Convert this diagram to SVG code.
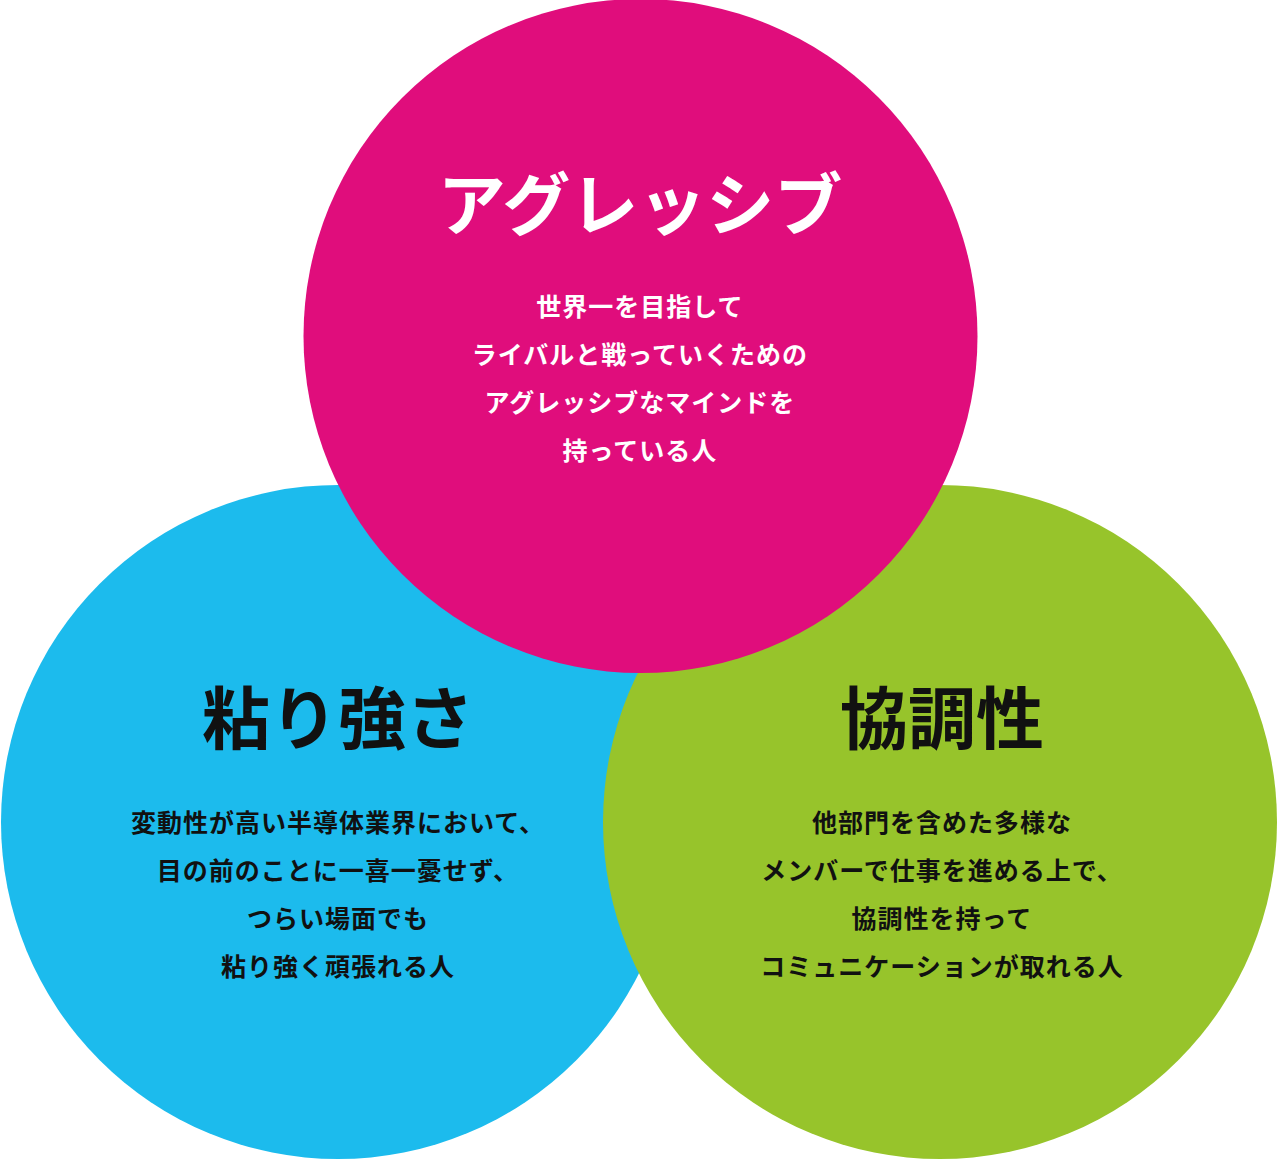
<svg xmlns="http://www.w3.org/2000/svg" width="1278" height="1159" viewBox="0 0 1278 1159">
<style>
text{font-family:"Noto Sans CJK JP","Noto Sans CJK SC",sans-serif;font-weight:700;text-anchor:middle}
.t{font-size:68px}
.b{font-size:25px;letter-spacing:1px}
.w{fill:#fff}
.k{fill:#111}
</style>
<g id="node-blue"><circle cx="338" cy="822" r="337" fill="#1CBBED"/></g>
<g id="node-green"><circle cx="940" cy="822" r="337" fill="#97C42B"/></g>
<g id="node-pink"><circle cx="640.5" cy="336" r="337" fill="#E00D7C"/></g>
<g id="connectors"></g>
<g id="label-pink" class="w">
<text class="t w" x="640" y="230">アグレッシブ</text>
<text class="b w" x="640" y="316">世界一を目指して</text>
<text class="b w" x="640" y="364">ライバルと戦っていくための</text>
<text class="b w" x="640" y="412">アグレッシブなマインドを</text>
<text class="b w" x="640" y="460">持っている人</text>
</g>
<g id="label-blue">
<text class="t k" x="338" y="744">粘り強さ</text>
<text class="b k" x="338" y="832">変動性が高い半導体業界において、</text>
<text class="b k" x="338" y="880">目の前のことに一喜一憂せず、</text>
<text class="b k" x="338" y="928">つらい場面でも</text>
<text class="b k" x="338" y="976">粘り強く頑張れる人</text>
</g>
<g id="label-green">
<text class="t k" x="942" y="744">協調性</text>
<text class="b k" x="942" y="832">他部門を含めた多様な</text>
<text class="b k" x="942" y="880">メンバーで仕事を進める上で、</text>
<text class="b k" x="942" y="928">協調性を持って</text>
<text class="b k" x="942" y="976">コミュニケーションが取れる人</text>
</g>
</svg>
